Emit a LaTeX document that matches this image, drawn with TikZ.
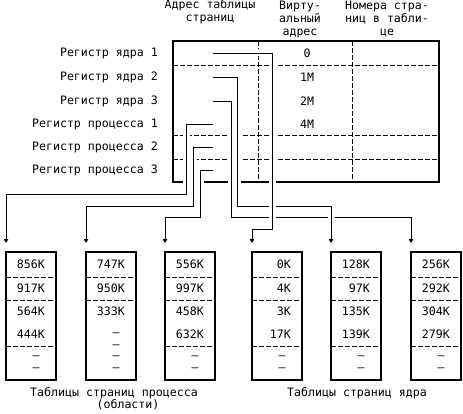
\documentclass[tikz,border=0pt]{standalone}
\usepackage{fontspec}
\setmainfont{DejaVu Sans Mono}
\usetikzlibrary{arrows.meta}
\tikzset{
  txt/.style={font=\fontsize{11.6}{13}\selectfont,inner sep=0pt},
  reglabel/.style={txt,anchor=east},
  hdrlabel/.style={txt,align=center},
  framebox/.style={draw,line width=1.8pt,anchor=north west,minimum width=50pt,minimum height=128pt,inner sep=0pt,outer sep=0pt},
  divider/.style={line width=0.8pt,dash pattern=on 5pt off 2pt},
  ptrline/.style={line width=0.8pt,-{Triangle[length=4pt,width=4.5pt]},preaction={draw=white,line width=7pt,-}}
}

\begin{document}
\begin{tikzpicture}[x=1pt,y=-1pt]
\useasboundingbox (0,0) rectangle (463,414);
% column headers
\node[hdrlabel] (hdraddr) at (210,12) {Адрес таблицы\\ страниц};
\node[hdrlabel] (hdrvirt) at (300,19) {Вирту-\\альный\\ адрес};
\node[hdrlabel] (hdrpage) at (387,19) {Номера стра-\\ниц в табли-\\це};
% registers
\node[reglabel] (regk1) at (158,53) {Регистр ядра 1};
\node[reglabel] (regk2) at (158,77) {Регистр ядра 2};
\node[reglabel] (regk3) at (158,101) {Регистр ядра 3};
\node[reglabel] (regp1) at (158,124) {Регистр процесса 1};
\node[reglabel] (regp2) at (158,147) {Регистр процесса 2};
\node[reglabel] (regp3) at (158,170) {Регистр процесса 3};
\node[framebox,minimum width=266pt,minimum height=141pt] (regtab) at (173,41) {};
\draw[divider] (173,65) -- (439,65);
\draw[divider] (173,135) -- (439,135);
\draw[divider] (173,159) -- (439,159);
\draw[divider] (258,41) -- (258,182);
\draw[divider] (352,41) -- (352,182);
\node[txt] (va0) at (307,53) {0};
\node[txt] (va1) at (307,77) {1М};
\node[txt] (va2) at (307,101) {2М};
\node[txt] (va4) at (307,124) {4М};
% page tables
\foreach \nm/\x/\a/\b/\c/\d in {pt1/6/856K/917K/564K/444K,pt3/165/556K/997K/458K/632K,
    kt1/252/0K/4K/3K/17K,kt2/331/128K/97K/135K/139K,kt3/411/256K/292K/304K/279K}{
  \node[framebox] (\nm) at (\x,252) {};
  \draw[divider] (\x,277) -- (\x+50,277);
  \draw[divider] (\x,300) -- (\x+50,300);
  \draw[divider] (\x,346) -- (\x+50,346);
  \node[reglabel] at (\x+39,264) {\a};
  \node[reglabel] at (\x+39,288) {\b};
  \node[reglabel] at (\x+39,311) {\c};
  \node[reglabel] at (\x+39,334) {\d};
  \node[txt] at (\x+30,358) {–};
  \node[txt] at (\x+30,370) {–};
}
\node[framebox] (pt2) at (86,252) {};
\draw[divider] (86,277) -- (136,277);
\draw[divider] (86,300) -- (136,300);
\node[reglabel] at (125,264) {747K};
\node[reglabel] at (125,288) {950K};
\node[reglabel] at (125,311) {333K};
\foreach \y in {335,347,358,370}
  \node[txt] at (116,\y) {–};
\node[txt] (capproc) at (114,393) {Таблицы страниц процесса};
\node[txt] (capreg) at (128,405) {(области)};
\node[txt] (capkern) at (357,393) {Таблицы страниц ядра};
% pointers
\coordinate (srck1) at (213,53);
\coordinate (srck2) at (213,77);
\coordinate (srck3) at (213,101);
\coordinate (srcp1) at (213,124);
\coordinate (srcp2) at (213,147);
\coordinate (srcp3) at (213,170);
\coordinate (inp1) at (6,243);
\coordinate (inp2) at (86,243);
\coordinate (inp3) at (165,243);
\coordinate (ink1) at (252,243);
\coordinate (ink2) at (331,243);
\coordinate (ink3) at (411,243);
\draw[ptrline] (srcp1) -| ++(-27,70) -| (inp1);
\draw[ptrline] (srcp2) -| ++(-20,59) -| (inp2);
\draw[ptrline] (srcp3) -| ++(-13,47) -| (inp3);
\draw[ptrline] (srck3) -| ++(18,116) -| (ink3);
\draw[ptrline] (srck2) -| ++(24,129) -| (ink2);
\draw[ptrline] (srck1) -| ++(59,176) -| (ink1);
\end{tikzpicture}
\end{document}
